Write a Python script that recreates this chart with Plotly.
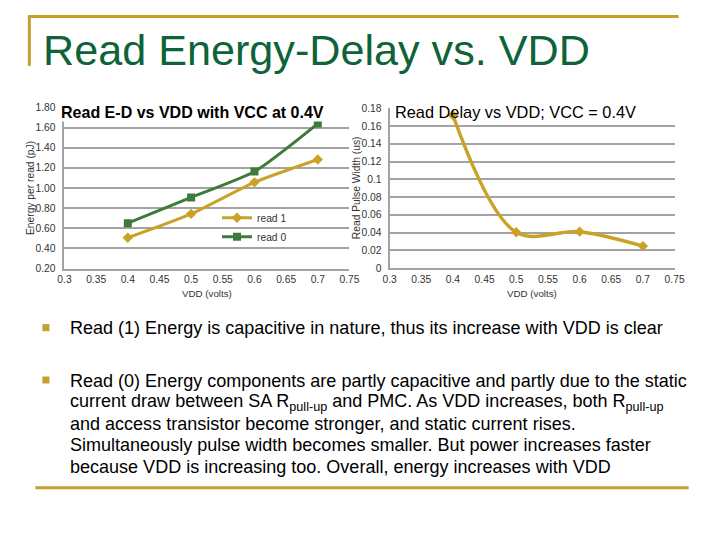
import plotly.graph_objects as go

W, H = 720, 540

# ---------------- data ----------------
vdd = [0.4, 0.5, 0.6, 0.7]
energy_read1 = [0.506, 0.743, 1.056, 1.283]
energy_read0 = [0.65, 0.906, 1.163, 1.64]
pulse_width = [0.172, 0.0404, 0.0411, 0.0249]

slide_title = "Read Energy-Delay vs. VDD"
left_title = "Read E-D vs VDD with VCC at 0.4V"
right_title = "Read Delay vs VDD; VCC = 0.4V"
bullet1 = "Read (1) Energy is capacitive in nature, thus its increase with VDD is clear"
bullet2_lines = [
    "Read (0) Energy components are partly capacitive and partly due to the static",
    "current draw between SA R<sub>pull-up</sub> and PMC. As VDD increases, both R<sub>pull-up</sub>",
    "and access transistor become stronger, and static current rises.",
    "Simultaneously pulse width becomes smaller. But power increases faster",
    "because VDD is increasing too. Overall, energy increases with VDD",
]

# ---------------- style ----------------
GOLD = "#C9A227"
GREEN = "#3E7B3A"
TITLE_GREEN = "#0E6339"
DECOR_GOLD = "#C4A02E"
GRID = "#A3A3A3"
FONT = "Liberation Sans, Arial, sans-serif"

# empirical mapping of the rendered page (layout px -> screenshot px)
S, OX, OY = 0.973, 16.7, 14.5


def px(x):
    return ((x - OX) / S) / W


def py(y):
    return 1 - ((y - OY) / S) / H


def fs(s):
    return s / S


fig = go.Figure()

fig.add_trace(go.Scatter(
    x=vdd, y=energy_read1, name="read 1", mode="lines+markers",
    line=dict(color=GOLD, width=3, shape="spline", smoothing=0.6),
    marker=dict(symbol="diamond", size=8, color=GOLD),
    xaxis="x", yaxis="y"))
fig.add_trace(go.Scatter(
    x=vdd, y=energy_read0, name="read 0", mode="lines+markers",
    line=dict(color=GREEN, width=3, shape="spline", smoothing=0.6),
    marker=dict(symbol="square", size=8, color=GREEN),
    xaxis="x", yaxis="y"))
fig.add_trace(go.Scatter(
    x=vdd, y=pulse_width, name="delay", mode="lines+markers", showlegend=False,
    line=dict(color=GOLD, width=3.5, shape="spline", smoothing=1.0),
    marker=dict(symbol="diamond", size=8, color=GOLD),
    xaxis="x2", yaxis="y2"))

axis_common = dict(
    showline=True, linecolor=GRID, linewidth=2,
    tickfont=dict(family=FONT, size=fs(10), color="#333333"),
    ticks="", zeroline=False,
)

fig.update_layout(
    width=W, height=H,
    margin=dict(l=0, r=0, t=0, b=0),
    paper_bgcolor="white", plot_bgcolor="white",
    font=dict(family=FONT, color="#333333"),
    xaxis=dict(domain=[px(66), px(350)], range=[0.3, 0.75], dtick=0.05, tick0=0.3,
               showgrid=False, anchor="y", ticklabelstandoff=0, **axis_common),
    yaxis=dict(domain=[py(268.3), py(108.3)], range=[0.2, 1.8], dtick=0.2, tick0=0.2,
               tickformat=".2f", showgrid=True, gridcolor=GRID, gridwidth=2,
               anchor="x", ticklabelstandoff=5, **axis_common),
    xaxis2=dict(domain=[px(390), px(674)], range=[0.3, 0.75], dtick=0.05, tick0=0.3,
                showgrid=False, anchor="y2", ticklabelstandoff=0, **axis_common),
    yaxis2=dict(domain=[py(268), py(109)], range=[0, 0.18], dtick=0.02, tick0=0,
                showgrid=True, gridcolor=GRID, gridwidth=2,
                anchor="x2", ticklabelstandoff=4, **axis_common),
    legend=dict(x=px(218), y=py(203.5), xanchor="left", yanchor="top",
                bgcolor="rgba(0,0,0,0)", font=dict(family=FONT, size=fs(10), color="#333333"),
                tracegroupgap=0, itemwidth=30),
    showlegend=True,
)

ann = []
# slide title
ann.append(dict(x=px(43), y=py(51), xref="paper", yref="paper", xanchor="left",
                yanchor="middle", showarrow=False, text=slide_title,
                font=dict(family=FONT, size=fs(42), color=TITLE_GREEN)))
# chart titles
ann.append(dict(x=px(62), y=py(113), xref="paper", yref="paper", xanchor="left",
                yanchor="middle", showarrow=False, text="<b>" + left_title + "</b>",
                bgcolor="white", borderpad=0,
                font=dict(family=FONT, size=fs(15.6), color="black")))
ann.append(dict(x=px(393), y=py(113), xref="paper", yref="paper", xanchor="left",
                yanchor="middle", showarrow=False, text=right_title,
                font=dict(family=FONT, size=fs(15.9), color="black")))
# axis titles
for xc in (208, 532):
    ann.append(dict(x=px(xc), y=py(293), xref="paper", yref="paper", xanchor="center",
                    yanchor="middle", showarrow=False, text="VDD (volts)",
                    font=dict(family=FONT, size=fs(9.5), color="#333333")))
ann.append(dict(x=px(32), y=py(188), xref="paper", yref="paper", xanchor="center",
                yanchor="middle", showarrow=False, text="Energy per read (pJ)",
                textangle=-90, font=dict(family=FONT, size=fs(10), color="#333333")))
ann.append(dict(x=px(357), y=py(188), xref="paper", yref="paper", xanchor="center",
                yanchor="middle", showarrow=False, text="Read Pulse Width (us)",
                textangle=-90, font=dict(family=FONT, size=fs(10), color="#333333")))
# bullets text
BODY = 17.55
ann.append(dict(x=px(70), y=py(327), xref="paper", yref="paper", xanchor="left",
                yanchor="middle", showarrow=False, text=bullet1,
                font=dict(family=FONT, size=fs(BODY), color="black")))
line_y = [380, 401.5, 422.7, 444, 465]
for t, yy in zip(bullet2_lines, line_y):
    ann.append(dict(x=px(70), y=py(yy), xref="paper", yref="paper", xanchor="left",
                    yanchor="middle", showarrow=False, text=t,
                    font=dict(family=FONT, size=fs(BODY), color="black")))
fig.update_layout(annotations=ann)

shapes = []
# top decoration
shapes.append(dict(type="line", xref="paper", yref="paper", x0=px(30), x1=px(678),
                   y0=py(18), y1=py(18), line=dict(color=DECOR_GOLD, width=3)))
shapes.append(dict(type="line", xref="paper", yref="paper", x0=px(31), x1=px(31),
                   y0=py(17), y1=py(67), line=dict(color=DECOR_GOLD, width=3)))
# bottom line
shapes.append(dict(type="line", xref="paper", yref="paper", x0=px(37), x1=px(688),
                   y0=py(486), y1=py(486), line=dict(color=DECOR_GOLD, width=3)))
# bullet squares
for by in (327, 379):
    shapes.append(dict(type="rect", xref="paper", yref="paper", x0=px(44), x1=px(51),
                       y0=py(by - 3.5), y1=py(by + 3.5), fillcolor=DECOR_GOLD,
                       line=dict(width=0)))
fig.update_layout(shapes=shapes)

fig.write_html("out.html")
